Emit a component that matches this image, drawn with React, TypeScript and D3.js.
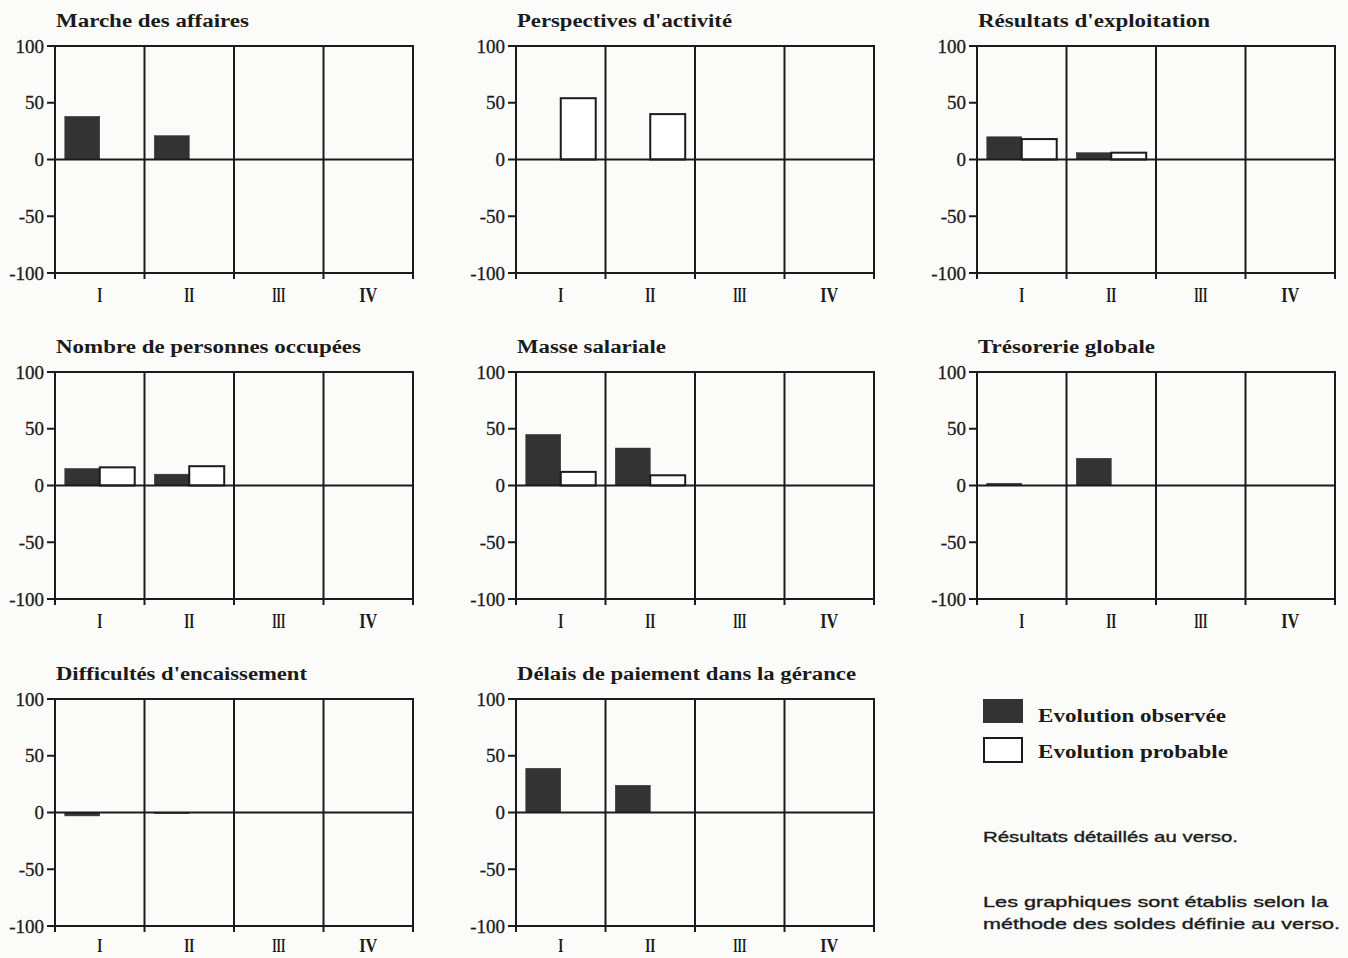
import React from "react";
import * as d3 from "d3";

// ---- Data ----
const quarters = ["I", "II", "III", "IV"];
const series = ["Evolution observée", "Evolution probable"];
const yTicks = [100, 50, 0, -50, -100];

const titles = [
  "Marche des affaires",
  "Perspectives d'activité",
  "Résultats d'exploitation",
  "Nombre de personnes occupées",
  "Masse salariale",
  "Trésorerie globale",
  "Difficultés d'encaissement",
  "Délais de paiement dans la gérance",
];

// observed (dark) values per panel, per quarter
const observed: (number | null)[][] = [
  [38, 21, null, null],
  [null, null, null, null],
  [20, 6, null, null],
  [15, 10, null, null],
  [45, 33, null, null],
  [2, 24, null, null],
  [-3, -1, null, null],
  [39, 24, null, null],
];

// probable (white) values per panel, per quarter
const probable: (number | null)[][] = [
  [null, null, null, null],
  [54, 40, null, null],
  [18, 6, null, null],
  [16, 17, null, null],
  [12, 9, null, null],
  [null, null, null, null],
  [null, null, null, null],
  [null, null, null, null],
];

const notes = [
  "Résultats détaillés au verso.",
  "Les graphiques sont établis selon la",
  "méthode des soldes définie au verso.",
];

// ---- Layout / style ----
const W = 1348;
const H = 958;
const colLeft = [55, 516, 977];
const rowTop = [46, 372, 699];
const PW = 358;
const PH = 227;
const titleLen = [193, 215, 232, 305, 149, 177, 251, 339];
const numeralLen: Record<string, number> = { I: 5, II: 10, III: 13, IV: 18 };
const INK = "#1b1b1b";
const DARK = "#333333";
const SERIF = "'Liberation Serif', 'Times New Roman', serif";
const SANS = "'Liberation Sans', Arial, sans-serif";

function Panel({ idx }: { idx: number }) {
  const row = Math.floor(idx / 3);
  const left = colLeft[idx % 3];
  const top = rowTop[row];
  const x0 = d3.scaleBand<string>().domain(quarters).range([0, PW]).padding(0);
  const x1 = d3
    .scaleBand<string>()
    .domain(series)
    .range([0, x0.bandwidth()])
    .paddingInner(0)
    .paddingOuter(0.28);
  const y = d3.scaleLinear().domain([-100, 100]).range([PH, 0]);
  const vals = [observed[idx], probable[idx]];
  const boundaries = d3.range(quarters.length + 1).map((i) => i * x0.step());

  return (
    <g transform={`translate(${left},${top})`}>
      <text
        x={1}
        y={-19}
        fontFamily={SERIF}
        fontWeight="bold"
        fontSize={18}
        fill={INK}
        textLength={titleLen[idx]}
        lengthAdjust="spacingAndGlyphs"
      >
        {titles[idx]}
      </text>
      {/* bars */}
      {series.map((s, si) =>
        quarters.map((q, qi) => {
          const v = vals[si][qi];
          if (v === null || v === undefined) return null;
          const yA = y(Math.max(0, v));
          const yB = y(Math.min(0, v));
          return (
            <rect
              key={`${s}-${q}`}
              x={(x0(q) as number) + (x1(s) as number)}
              y={yA}
              width={x1.bandwidth()}
              height={Math.max(1, yB - yA)}
              fill={si === 0 ? DARK : "#ffffff"}
              stroke={si === 0 ? DARK : INK}
              strokeWidth={si === 0 ? 0.5 : 2}
            />
          );
        })
      )}
      {/* frame & grid */}
      <rect x={0} y={0} width={PW} height={PH} fill="none" stroke={INK} strokeWidth={2} />
      <line x1={0} x2={PW} y1={y(0)} y2={y(0)} stroke={INK} strokeWidth={2} />
      {boundaries.map((bx, i) => (
        <line key={`b${i}`} x1={bx} x2={bx} y1={0} y2={PH + 6} stroke={INK} strokeWidth={2} />
      ))}
      {/* y ticks */}
      {yTicks.map((t) => (
        <g key={`t${t}`}>
          <line x1={-8} x2={0} y1={y(t)} y2={y(t)} stroke={INK} strokeWidth={2} />
          <text
            x={-11}
            y={y(t)}
            dy="0.35em"
            textAnchor="end"
            fontFamily={SERIF}
            fontSize={19}
            fill={INK}
            stroke={INK}
            strokeWidth={0.3}
          >
            {t}
          </text>
        </g>
      ))}
      {/* quarter labels */}
      {quarters.map((q) => (
        <text
          key={`q${q}`}
          x={(x0(q) as number) + x0.bandwidth() / 2}
          y={PH + (row === 2 ? 26 : 29)}
          textAnchor="middle"
          fontFamily={SERIF}
          fontWeight="bold"
          fontSize={row === 2 ? 18 : 20}
          fill={INK}
          textLength={numeralLen[q]}
          lengthAdjust="spacingAndGlyphs"
        >
          {q}
        </text>
      ))}
    </g>
  );
}

export default function App() {
  return (
    <svg
      width={W}
      height={H}
      viewBox={`0 0 ${W} ${H}`}
      style={{ position: "absolute", left: 0, top: 0, background: "#fbfbf9" }}
    >
      <rect x={0} y={0} width={W} height={H} fill="#fbfbf9" />
      {titles.map((_, i) => (
        <Panel key={i} idx={i} />
      ))}
      {/* legend */}
      <g>
        <rect x={983} y={699} width={40} height={24} fill={DARK} />
        <text x={1038} y={722} fontFamily={SERIF} fontWeight="bold" fontSize={19} fill={INK} textLength={188} lengthAdjust="spacingAndGlyphs">
          {series[0]}
        </text>
        <rect x={984} y={738} width={38} height={24} fill="#ffffff" stroke={INK} strokeWidth={2} />
        <text x={1038} y={758} fontFamily={SERIF} fontWeight="bold" fontSize={19} fill={INK} textLength={190} lengthAdjust="spacingAndGlyphs">
          {series[1]}
        </text>
      </g>
      <text x={983} y={842} fontFamily={SANS} fontSize={15} fill={INK} stroke={INK} strokeWidth={0.35} textLength={255} lengthAdjust="spacingAndGlyphs">
        {notes[0]}
      </text>
      <text x={983} y={907} fontFamily={SANS} fontSize={15} fill={INK} stroke={INK} strokeWidth={0.35} textLength={345} lengthAdjust="spacingAndGlyphs">
        {notes[1]}
      </text>
      <text x={983} y={929} fontFamily={SANS} fontSize={15} fill={INK} stroke={INK} strokeWidth={0.35} textLength={357} lengthAdjust="spacingAndGlyphs">
        {notes[2]}
      </text>
    </svg>
  );
}
